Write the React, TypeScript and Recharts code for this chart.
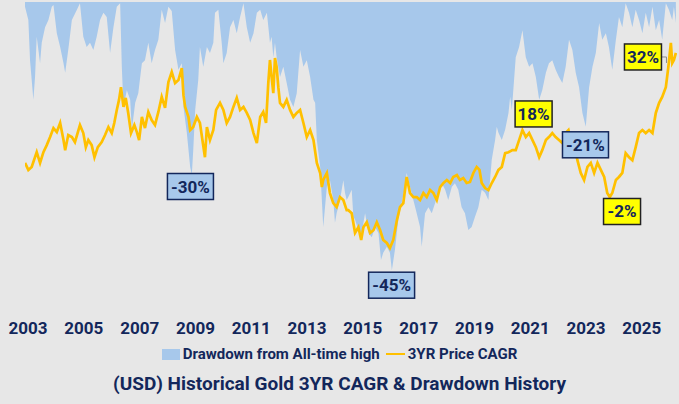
import { ComposedChart, Area, Line, XAxis, YAxis, ReferenceDot } from "recharts";

// 3-year price CAGR (%), sampled along the time axis (decimal years)
const cagrYears = [
  2002.89, 2003.01, 2003.13, 2003.31, 2003.43, 2003.55, 2003.67, 2003.79, 2003.91, 2004.03,
  2004.15, 2004.27, 2004.33, 2004.44, 2004.57, 2004.68, 2004.86, 2004.98, 2005.07, 2005.16,
  2005.28, 2005.38, 2005.5, 2005.64, 2005.76, 2005.88, 2006.0, 2006.09, 2006.18, 2006.26,
  2006.33, 2006.42, 2006.5, 2006.59, 2006.69, 2006.81, 2006.9, 2006.98, 2007.08, 2007.19,
  2007.31, 2007.43, 2007.55, 2007.67, 2007.79, 2007.91, 2008.03, 2008.15, 2008.27, 2008.39,
  2008.51, 2008.57, 2008.63, 2008.75, 2008.81, 2008.92, 2009.05, 2009.16, 2009.34, 2009.41,
  2009.52, 2009.64, 2009.74, 2009.88, 2010.0, 2010.12, 2010.24, 2010.36, 2010.48, 2010.6,
  2010.72, 2010.84, 2010.96, 2011.08, 2011.2, 2011.32, 2011.43, 2011.53, 2011.61, 2011.67,
  2011.73, 2011.79, 2011.85, 2011.91, 2011.97, 2012.03, 2012.15, 2012.27, 2012.39, 2012.51,
  2012.63, 2012.75, 2012.87, 2012.99, 2013.11, 2013.23, 2013.35, 2013.47, 2013.53, 2013.58,
  2013.71, 2013.82, 2013.94, 2014.06, 2014.18, 2014.3, 2014.42, 2014.48, 2014.6, 2014.72,
  2014.84, 2014.94, 2015.02, 2015.14, 2015.26, 2015.38, 2015.5, 2015.62, 2015.73, 2015.86,
  2015.97, 2016.09, 2016.22, 2016.33, 2016.45, 2016.57, 2016.69, 2016.81, 2016.93, 2017.05,
  2017.17, 2017.29, 2017.41, 2017.53, 2017.65, 2017.77, 2017.89, 2018.01, 2018.13, 2018.24,
  2018.37, 2018.48, 2018.6, 2018.72, 2018.84, 2018.96, 2019.08, 2019.18, 2019.26, 2019.38,
  2019.5, 2019.62, 2019.74, 2019.86, 2019.98, 2020.1, 2020.22, 2020.36, 2020.48, 2020.6,
  2020.72, 2020.84, 2020.96, 2021.08, 2021.2, 2021.32, 2021.43, 2021.56, 2021.67, 2021.79,
  2021.91, 2022.03, 2022.15, 2022.27, 2022.37, 2022.45, 2022.57, 2022.69, 2022.81, 2022.93,
  2023.05, 2023.17, 2023.29, 2023.41, 2023.53, 2023.65, 2023.76, 2023.85, 2023.94, 2024.07,
  2024.18, 2024.3, 2024.42, 2024.54, 2024.66, 2024.78, 2024.9, 2025.02, 2025.14, 2025.26,
  2025.38, 2025.5, 2025.62, 2025.73, 2025.86, 2025.95, 2026.04, 2026.09, 2026.15, 2026.22,
];

const cagrValues = [
  8.2, 6.1, 7.0, 11.4, 8.2, 11.4, 13.5, 15.9, 18.6, 17.4,
  20.1, 15.0, 12.0, 16.5, 15.9, 14.4, 19.5, 17.1, 12.9, 15.0,
  13.5, 9.9, 12.9, 14.4, 16.5, 18.9, 17.1, 20.1, 24.0, 27.0,
  30.8, 24.9, 27.6, 23.1, 17.1, 19.5, 17.4, 15.0, 21.9, 18.6,
  23.4, 21.0, 19.5, 23.4, 27.9, 24.6, 32.3, 35.3, 32.0, 32.9,
  36.5, 28.4, 24.9, 21.9, 18.0, 18.9, 21.9, 20.1, 9.9, 18.9,
  15.0, 18.0, 24.0, 26.1, 24.0, 20.1, 21.9, 24.9, 27.6, 24.0,
  24.9, 23.1, 21.0, 17.1, 14.1, 21.9, 23.4, 20.1, 32.0, 38.9,
  33.8, 29.0, 39.5, 36.8, 30.8, 26.1, 24.9, 27.0, 24.0, 21.9,
  23.1, 24.0, 20.1, 15.9, 18.0, 15.0, 8.2, 5.2, 1.0, 3.1,
  5.2, -0.8, -3.8, -5.0, -2.0, -2.9, -5.9, -5.9, -6.8, -12.7,
  -11.0, -14.8, -11.0, -9.5, -12.7, -11.9, -9.5, -11.9, -14.8, -15.7,
  -17.2, -14.8, -8.9, -5.0, -3.8, 4.0, -0.8, -2.0, -2.0, -2.9,
  -0.8, -2.0, 0.1, -0.8, -2.9, 1.0, 2.2, 3.1, 2.2, 4.0,
  4.6, 3.1, 3.7, 2.2, 2.5, 5.2, 7.0, 6.1, 2.2, 0.7,
  0.1, 2.2, 4.0, 6.1, 7.0, 11.1, 11.4, 12.0, 12.0, 15.0,
  18.0, 15.9, 17.1, 15.0, 12.9, 9.9, 12.0, 15.0, 15.9, 17.1,
  15.9, 15.0, 14.1, 17.1, 18.0, 15.0, 14.1, 9.0, 5.2, 3.1,
  7.0, 8.2, 5.2, 8.2, 6.1, 4.0, -0.8, -2.0, -0.8, 3.1,
  4.0, 5.2, 11.1, 9.9, 9.0, 12.9, 17.1, 18.0, 17.1, 18.0,
  17.1, 23.1, 26.1, 27.9, 30.8, 36.8, 44.0, 38.0, 38.9, 41.0,
];

// Drawdown from all-time high (%)
const drawdownYears = [
  2002.89, 2003.01, 2003.07, 2003.13, 2003.19, 2003.25, 2003.31, 2003.37, 2003.43, 2003.49,
  2003.61, 2003.73, 2003.85, 2003.91, 2004.03, 2004.15, 2004.27, 2004.33, 2004.44, 2004.57,
  2004.75, 2004.86, 2004.98, 2005.1, 2005.22, 2005.34, 2005.46, 2005.58, 2005.7, 2005.82,
  2005.94, 2006.06, 2006.18, 2006.3, 2006.36, 2006.42, 2006.54, 2006.66, 2006.72, 2006.84,
  2006.95, 2007.08, 2007.19, 2007.31, 2007.43, 2007.55, 2007.67, 2007.79, 2007.91, 2008.03,
  2008.15, 2008.27, 2008.39, 2008.51, 2008.57, 2008.69, 2008.81, 2008.87, 2008.92, 2008.99,
  2009.1, 2009.16, 2009.28, 2009.41, 2009.52, 2009.64, 2009.7, 2009.82, 2009.94, 2010.0,
  2010.12, 2010.24, 2010.36, 2010.48, 2010.6, 2010.72, 2010.84, 2010.96, 2011.08, 2011.2,
  2011.32, 2011.43, 2011.56, 2011.67, 2011.73, 2011.79, 2011.85, 2011.91, 2012.03, 2012.15,
  2012.27, 2012.39, 2012.51, 2012.63, 2012.75, 2012.87, 2012.99, 2013.11, 2013.23, 2013.29,
  2013.35, 2013.47, 2013.53, 2013.58, 2013.71, 2013.82, 2013.94, 2014.0, 2014.06, 2014.18,
  2014.3, 2014.36, 2014.42, 2014.48, 2014.6, 2014.66, 2014.72, 2014.84, 2014.96, 2015.08,
  2015.2, 2015.32, 2015.44, 2015.56, 2015.65, 2015.73, 2015.86, 2015.97, 2016.04, 2016.15,
  2016.27, 2016.39, 2016.51, 2016.57, 2016.69, 2016.81, 2016.93, 2017.05, 2017.11, 2017.23,
  2017.35, 2017.47, 2017.59, 2017.71, 2017.83, 2017.95, 2018.06, 2018.19, 2018.3, 2018.42,
  2018.54, 2018.66, 2018.78, 2018.9, 2019.02, 2019.14, 2019.26, 2019.38, 2019.5, 2019.62,
  2019.74, 2019.8, 2019.86, 2019.98, 2020.1, 2020.22, 2020.28, 2020.34, 2020.48, 2020.6,
  2020.72, 2020.84, 2020.96, 2021.08, 2021.2, 2021.32, 2021.43, 2021.56, 2021.67, 2021.79,
  2021.91, 2022.03, 2022.15, 2022.27, 2022.39, 2022.51, 2022.63, 2022.75, 2022.87, 2022.99,
  2023.11, 2023.23, 2023.35, 2023.47, 2023.58, 2023.71, 2023.82, 2023.94, 2024.07, 2024.18,
  2024.3, 2024.42, 2024.54, 2024.66, 2024.78, 2024.9, 2025.02, 2025.14, 2025.26, 2025.38,
  2025.5, 2025.62, 2025.73, 2025.86, 2025.97, 2026.09, 2026.15, 2026.22,
];

const drawdownValues = [
  -0.8, -3.0, -9.7, -13.0, -16.3, -12.5, -5.8, -8.0, -10.2, -6.8,
  -4.2, -3.0, -0.8, -0.5, -5.2, -7.5, -10.2, -11.8, -8.0, -3.0,
  -1.3, -0.2, -5.8, -7.5, -6.8, -8.0, -5.8, -3.0, -1.8, -2.5,
  -8.5, -4.2, -0.8, -0.2, -10.8, -17.5, -14.7, -16.3, -21.3, -16.8,
  -15.2, -10.2, -9.7, -6.8, -10.2, -8.0, -6.3, -1.3, -3.5, -0.8,
  -1.5, -8.0, -11.3, -10.2, -17.5, -21.8, -27.5, -28.8, -24.7, -18.0,
  -13.0, -7.5, -10.8, -7.5, -8.5, -6.8, -1.8, -1.3, -6.8, -10.2,
  -8.5, -4.2, -3.0, -5.2, -2.5, -0.2, -4.2, -6.8, -5.2, -1.8,
  -1.3, -3.0, -1.8, -6.8, -5.8, -9.2, -6.8, -9.2, -12.5, -10.8,
  -13.5, -16.3, -17.5, -15.2, -8.0, -10.8, -9.7, -12.5, -16.3, -16.8,
  -23.0, -27.5, -33.0, -37.5, -30.8, -29.7, -33.0, -36.8, -35.2, -33.0,
  -29.7, -31.8, -33.0, -32.5, -31.3, -35.8, -36.3, -38.0, -38.5, -35.2,
  -38.5, -39.2, -37.5, -38.5, -43.0, -41.8, -40.8, -41.8, -44.7, -41.3,
  -36.3, -33.5, -30.8, -28.5, -30.8, -33.0, -35.2, -37.5, -40.8, -35.2,
  -34.2, -35.2, -33.5, -31.8, -30.2, -31.3, -33.0, -30.8, -30.2, -31.3,
  -34.2, -35.2, -38.0, -37.5, -35.8, -34.2, -31.3, -31.8, -33.0, -26.3,
  -23.0, -20.8, -21.8, -23.0, -21.3, -18.5, -15.8, -18.0, -9.2, -7.5,
  -4.7, -9.2, -10.8, -10.2, -12.5, -16.3, -14.7, -11.8, -10.2, -9.7,
  -11.3, -12.5, -13.5, -10.8, -6.3, -8.0, -11.8, -14.2, -18.5, -20.8,
  -14.2, -10.8, -8.5, -3.5, -6.3, -5.2, -7.5, -11.3, -6.3, -2.5,
  -4.2, -0.2, -1.8, -4.2, -1.3, -3.0, -5.2, -1.8, -4.2, -0.8,
  -4.7, -3.0, -6.3, -0.2, -1.3, -3.0, -0.8, -3.5,
];

const yearTicks = [2003, 2005, 2007, 2009, 2011, 2013, 2015, 2017, 2019, 2021, 2023, 2025];

// Callout boxes: label text, anchor date, anchor value and the axis the value belongs to
const callouts = [
  { text: "-30%", t: 2008.82, v: -30.75, axis: "dd", kind: "blue" },
  { text: "-45%", t: 2016.03, v: -47.2, axis: "dd", kind: "blue" },
  { text: "18%", t: 2021.12, v: 22.8, axis: "cagr", kind: "yellow" },
  { text: "-21%", t: 2022.98, v: -23.8, axis: "dd", kind: "blue" },
  { text: "-2%", t: 2024.29, v: -6.3, axis: "cagr", kind: "yellow" },
  { text: "32%", t: 2025.04, v: 39.8, axis: "cagr", kind: "yellow" },
];

const cagrData = cagrYears.map((t, i) => ({ t, cagr: cagrValues[i] }));
const drawdownData = drawdownYears.map((t, i) => ({ t, drawdown: drawdownValues[i] }));

const NAVY = "#13275b";
const BG = "#e7e7e7";
const AREA_BLUE = "#a7c8eb";
const GOLD = "#ffc000";
const FONT = "Roboto, 'Liberation Sans', sans-serif";

const CalloutBox = ({ cx, cy, text, kind }: any) => {
  const w = 10 + text.length * 9;
  const h = 26;
  const isYellow = kind === "yellow";
  return (
    <g>
      {text === "32%" && (
        <polyline
          points={`${cx + w / 2},${cy} ${cx + w / 2 + 5},${cy} ${cx + w / 2 + 5},${cy + 6}`}
          fill="none"
          stroke="#8c8c8c"
          strokeWidth={1}
        />
      )}
      <rect
        x={cx - w / 2}
        y={cy - h / 2}
        width={w}
        height={h}
        fill={isYellow ? "#ffff00" : AREA_BLUE}
        stroke={isYellow ? "#222222" : NAVY}
        strokeWidth={1.5}
      />
      <text
        x={cx}
        y={cy + 6}
        textAnchor="middle"
        fontSize={17}
        fontWeight={700}
        fontFamily={FONT}
        fill={NAVY}
      >
        {text}
      </text>
    </g>
  );
};

const GoldCagrChart = () => {
  return (
    <div
      style={{
        position: "absolute",
        left: 0,
        top: 0,
        width: 679,
        height: 404,
        background: BG,
        fontFamily: FONT,
        overflow: "hidden",
      }}
    >
      <ComposedChart width={679} height={404} margin={{ top: 2, right: 2, bottom: 72, left: 25 }}>
        <XAxis
          type="number"
          dataKey="t"
          domain={[2002.89, 2026.26]}
          ticks={yearTicks}
          allowDataOverflow
          axisLine={false}
          tickLine={false}
          tickSize={0}
          tickMargin={20}
          height={30}
          interval={0}
          tick={{ fill: NAVY, fontSize: 17, fontWeight: 700, fontFamily: FONT }}
        />
        <YAxis yAxisId="dd" hide domain={[-50, 0]} allowDataOverflow />
        <YAxis yAxisId="cagr" hide domain={[-33.3, 56.2]} allowDataOverflow />
        <Area
          yAxisId="dd"
          data={drawdownData}
          dataKey="drawdown"
          type="linear"
          baseValue={0}
          stroke="none"
          fill={AREA_BLUE}
          fillOpacity={1}
          isAnimationActive={false}
        />
        <Line
          yAxisId="cagr"
          data={cagrData}
          dataKey="cagr"
          type="linear"
          stroke={GOLD}
          strokeWidth={2.7}
          dot={false}
          isAnimationActive={false}
        />
        {callouts.map((c) => (
          <ReferenceDot
            key={c.text}
            x={c.t}
            y={c.v}
            yAxisId={c.axis}
            r={0}
            ifOverflow="visible"
            shape={(p: any) => <CalloutBox cx={p.cx} cy={p.cy} text={c.text} kind={c.kind} />}
          />
        ))}
      </ComposedChart>

      {/* Legend */}
      <div
        style={{
          position: "absolute",
          top: 345,
          left: 0,
          width: 679,
          display: "flex",
          justifyContent: "center",
          alignItems: "center",
          color: NAVY,
          fontSize: 15,
          fontWeight: 700,
        }}
      >
        <span style={{ width: 18, height: 11, background: AREA_BLUE, marginRight: 3 }} />
        <span>Drawdown from All-time high</span>
        <span style={{ width: 19, height: 2.5, background: GOLD, marginLeft: 6, marginRight: 3 }} />
        <span>3YR Price CAGR</span>
      </div>

      {/* Title */}
      <div
        style={{
          position: "absolute",
          top: 372,
          left: 0,
          width: 679,
          textAlign: "center",
          color: NAVY,
          fontSize: 19,
          fontWeight: 700,
        }}
      >
        (USD) Historical Gold 3YR CAGR &amp; Drawdown History
      </div>
    </div>
  );
};

export default function App() {
  return <GoldCagrChart />;
}
